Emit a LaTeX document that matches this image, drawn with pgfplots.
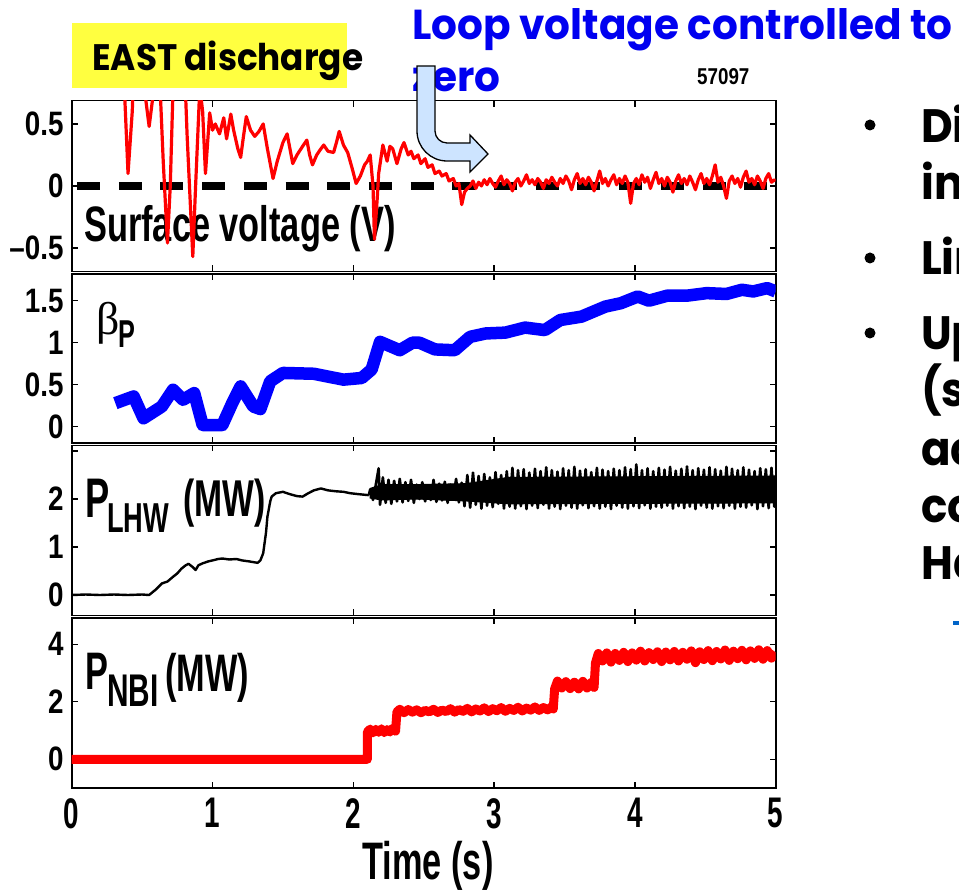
\documentclass[border=0pt]{standalone}
\usepackage{pgfplots}
\pgfplotsset{compat=1.18}
\usepackage{fontspec}
\newfontfamily\lab[FakeStretch=0.65]{Liberation Sans}
\newfontfamily\labw[FakeStretch=0.69]{Liberation Sans}
\newfontfamily\ytf[FakeStretch=0.82]{Liberation Sans}
\newfontfamily\pop[FakeStretch=0.93]{Poppins}
\newfontfamily\popw[FakeStretch=0.97]{Poppins}
\newfontfamily\grk{Liberation Serif}
\definecolor{pred}{RGB}{255,0,0}
\definecolor{pblue}{RGB}{0,0,255}
\definecolor{tblue}{RGB}{0,0,240}
\definecolor{ybox}{RGB}{255,255,64}
\definecolor{arrowfill}{RGB}{205,228,255}
\definecolor{subblue}{RGB}{0,100,200}
\pgfplotsset{
  panel/.style={
    scale only axis, width=704bp, xmin=0, xmax=5,
    anchor=south west,
    axis line style={line width=1.6bp},
    tick style={black, line width=1.3bp},
    major tick length=6bp,
    tick align=inside,
    xtick={0,1,2,3,4,5},
    xticklabels={},
    yticklabel style={font=\ytf\bfseries\fontsize{34}{34}\selectfont, inner sep=0pt, xshift=-8bp},
    clip=true,
  }
}
\begin{document}
\begin{tikzpicture}[x=1bp,y=1bp]
\useasboundingbox (0,0) rectangle (959,891);
\clip (0,0) rectangle (959,891);
% yellow box and titles
\fill[ybox] (72,803) rectangle (347,868);
\node[anchor=base west, inner sep=0, font=\pop\bfseries\fontsize{37}{37}\selectfont] at (92,820) {EAST discharge};
\node[anchor=base west, inner sep=0, text=tblue, font=\popw\bfseries\fontsize{42}{42}\selectfont] at (412,851) {Loop voltage controlled to};
\node[anchor=base west, inner sep=0, text=tblue, font=\popw\bfseries\fontsize{42}{42}\selectfont] at (412,799) {zero};
\node[anchor=base west, inner sep=0, font=\ytf\bfseries\fontsize{23}{23}\selectfont] at (697,806) {57097};
% right bullets
\fill (870,766) circle (5.5);
\fill (870,633) circle (5.5);
\fill (870,558) circle (5.5);
\begin{scope}[every node/.style={anchor=base west, inner sep=0, font=\pop\bfseries\fontsize{47}{47}\selectfont}]
\node at (921,748) {Di};
\node at (921,691) {in};
\node at (921,616) {Lin};
\node at (921,541) {Up};
\node at (921,484) {(s};
\node at (921,425) {ac};
\node at (921,368) {co};
\node at (921,311) {Ha};
\end{scope}
\fill[subblue] (953,266) rectangle (959,270);
% panel labels
\node[anchor=base west, inner sep=0, font=\labw\bfseries\fontsize{50}{50}\selectfont] at (84,649) {Surface voltage (V)};
\node[anchor=base west, inner sep=0, font=\grk\fontsize{46}{46}\selectfont] at (96,556) {β};
\node[anchor=base west, inner sep=0, font=\lab\bfseries\fontsize{39}{39}\selectfont] at (118,543) {P};
\node[anchor=base west, inner sep=0, font=\lab\bfseries\fontsize{56}{56}\selectfont] at (85,373) {P};
\node[anchor=base west, inner sep=0, font=\lab\bfseries\fontsize{42}{42}\selectfont] at (107,358) {LHW};
\node[anchor=base west, inner sep=0, font=\lab\bfseries\fontsize{52}{52}\selectfont] at (183,374) {(MW)};
\node[anchor=base west, inner sep=0, font=\lab\bfseries\fontsize{53}{53}\selectfont] at (85,201) {P};
\node[anchor=base west, inner sep=0, font=\lab\bfseries\fontsize{46}{46}\selectfont] at (107,184) {NBI};
\node[anchor=base west, inner sep=0, font=\lab\bfseries\fontsize{53}{53}\selectfont] at (165,199) {(MW)};
\node[anchor=base, inner sep=0, font=\lab\bfseries\fontsize{53}{53}\selectfont] at (428,11) {Time (s)};

% ---------------- panel 1
\begin{axis}[panel, at={(71.7bp,619.5bp)}, height=170.8bp, ymin=-0.69, ymax=0.688,
  ytick={-0.5,0,0.5}, yticklabels={–0.5,0,0.5}]
\addplot[black, line width=8bp, dash pattern=on 23bp off 18.7bp] coordinates {(0.038,0) (5,0)};
\addplot[pred, line width=3.2bp, line join=round] table {
0.35 1.5
0.37 0.9
0.40 0.10
0.43 0.6
0.45 1.2
0.50 1.0
0.52 0.75
0.55 0.48
0.58 0.75
0.60 1.5
0.62 1.0
0.65 0.2
0.68 -0.46
0.70 0.0
0.72 0.8
0.75 1.5
0.80 1.0
0.82 0.4
0.86 -0.57
0.88 0.0
0.91 0.8
0.93 0.6
0.95 0.10
0.98 0.59
1.00 0.45
1.02 0.50
1.05 0.42
1.08 0.55
1.10 0.38
1.13 0.58
1.15 0.45
1.18 0.30
1.20 0.23
1.22 0.40
1.24 0.56
1.27 0.45
1.30 0.40
1.33 0.44
1.36 0.50
1.39 0.30
1.43 0.06
1.46 0.20
1.50 0.35
1.53 0.42
1.55 0.30
1.57 0.18
1.60 0.25
1.64 0.32
1.67 0.37
1.69 0.25
1.71 0.17
1.74 0.25
1.77 0.30
1.79 0.33
1.82 0.28
1.86 0.27
1.88 0.35
1.90 0.44
1.93 0.33
1.96 0.27
1.99 0.15
2.02 0.02
2.05 0.08
2.08 0.17
2.10 0.20
2.12 0.25
2.14 0.0
2.15 -0.43
2.17 -0.10
2.18 0.10
2.21 0.33
2.24 0.20
2.26 0.32
2.28 0.30
2.31 0.18
2.34 0.30
2.36 0.35
2.39 0.25
2.41 0.28
2.43 0.22
2.46 0.25
2.48 0.18
2.51 0.22
2.53 0.15
2.56 0.17
2.58 0.10
2.61 0.12
2.63 0.08
2.66 0.10
2.68 0.04
2.71 0.06
2.73 0.00
2.75 0.02
2.77 -0.15
2.79 -0.05
2.81 -0.02
2.83 0.00
2.85 0.04
2.87 -0.02
2.89 0.03
2.91 0.00
2.93 0.05
2.95 0.01
2.97 0.06
2.99 0.02
3.01 -0.01
3.03 0.04
3.05 0.08
3.07 0.01
3.09 0.05
3.11 0.02
3.13 -0.04
3.15 0.03
3.17 0.06
3.19 0.00
3.21 0.04
3.23 0.09
3.25 0.02
3.27 0.05
3.29 0.01
3.31 0.06
3.33 0.03
3.35 -0.02
3.37 0.05
3.39 0.02
3.41 0.07
3.43 0.03
3.45 0.00
3.47 0.06
3.49 0.02
3.51 0.08
3.53 0.04
3.55 -0.03
3.57 0.05
3.59 0.10
3.61 0.02
3.63 0.06
3.65 0.01
3.67 0.07
3.69 0.03
3.71 -0.04
3.73 0.04
3.75 0.12
3.77 0.02
3.79 0.06
3.81 0.00
3.83 0.05
3.85 0.09
3.87 0.01
3.89 0.06
3.91 0.02
3.93 0.08
3.95 0.03
3.97 -0.14
3.99 0.02
4.01 0.06
4.03 0.01
4.05 0.09
4.07 0.03
4.09 0.07
4.11 -0.02
4.13 0.05
4.15 0.11
4.17 0.02
4.19 0.06
4.21 0.00
4.23 0.07
4.25 0.03
4.27 -0.05
4.29 0.04
4.31 0.09
4.33 0.02
4.35 0.06
4.37 0.01
4.39 0.08
4.41 0.03
4.43 -0.03
4.45 0.05
4.47 0.10
4.49 0.02
4.51 0.06
4.53 0.01
4.55 0.08
4.57 0.17
4.59 0.03
4.61 0.07
4.63 0.00
4.65 -0.10
4.67 0.04
4.69 0.08
4.71 0.02
4.73 0.06
4.75 -0.01
4.77 0.07
4.79 0.12
4.81 0.03
4.83 0.06
4.85 0.01
4.87 0.08
4.89 0.04
4.91 -0.02
4.93 0.06
4.95 0.10
4.97 0.03
4.99 0.05
5.00 0.04
};
\end{axis}

% ---------------- panel 2
\begin{axis}[panel, at={(71.7bp,448bp)}, height=169bp, ymin=-0.194, ymax=1.818,
  ytick={0,0.5,1,1.5}, yticklabels={0,0.5,1,1.5}]
\addplot[pblue, line width=12.5bp, line join=round] table {
0.31 0.28
0.44 0.36
0.51 0.10
0.64 0.24
0.72 0.44
0.79 0.32
0.87 0.40
0.93 0.02
1.07 0.02
1.14 0.28
1.20 0.48
1.29 0.24
1.34 0.21
1.41 0.54
1.50 0.64
1.72 0.63
1.93 0.56
2.06 0.58
2.13 0.68
2.19 1.01
2.33 0.91
2.42 1.00
2.47 1.00
2.58 0.92
2.72 0.91
2.83 1.07
2.94 1.11
3.08 1.12
3.22 1.18
3.36 1.15
3.47 1.27
3.62 1.31
3.79 1.43
3.90 1.47
4.02 1.55
4.10 1.50
4.23 1.56
4.37 1.56
4.51 1.59
4.65 1.58
4.76 1.63
4.84 1.61
4.94 1.65
5.00 1.61
};
\end{axis}

% ---------------- panel 3
\begin{axis}[panel, at={(71.7bp,275.5bp)}, height=170bp, ymin=-0.427, ymax=3.115,
  ytick={0,1,2,3}, yticklabels={0,1,2,{}}]
\addplot[black, line width=2.4bp, line join=round] table {
0.00 0.00
0.10 0.01
0.20 0.00
0.30 0.01
0.40 0.00
0.50 0.01
0.55 0.00
0.60 0.12
0.64 0.24
0.68 0.28
0.72 0.38
0.75 0.45
0.78 0.55
0.81 0.62
0.83 0.65
0.86 0.58
0.88 0.52
0.90 0.62
0.93 0.66
0.97 0.70
1.00 0.72
1.04 0.75
1.07 0.76
1.12 0.74
1.17 0.75
1.21 0.72
1.26 0.70
1.30 0.68
1.32 0.67
1.34 0.72
1.36 0.87
1.38 1.30
1.39 1.63
1.41 1.95
1.42 2.05
1.45 2.12
1.50 2.15
1.55 2.10
1.60 2.06
1.64 2.05
1.68 2.12
1.72 2.18
1.77 2.22
1.82 2.18
1.88 2.16
1.93 2.15
1.98 2.12
2.04 2.10
2.11 2.08
};
% solid core of the fast-oscillating LHW trace (upper envelope, then lower envelope back)
\addplot[fill=black, draw=black, line width=1bp] coordinates {
(2.12,2.22) (2.20,2.30) (2.45,2.30) (2.80,2.32) (3.10,2.45) (5.00,2.48)
(5.00,1.92) (3.10,1.90) (2.80,1.96) (2.45,2.00) (2.20,1.98) (2.12,2.02)
} -- cycle;
\addplot[black, line width=2.6bp, line join=round] table {
2.11 2.08
2.12 2.20
2.14 1.98
2.16 2.30
2.18 2.64
2.19 1.88
2.21 2.45
2.23 1.92
2.25 2.40
2.27 1.90
2.29 2.38
2.31 1.95
2.33 2.42
2.35 1.93
2.37 2.35
2.39 1.96
2.41 2.40
2.43 1.92
2.45 2.30
2.47 2.00
2.49 2.35
2.51 1.95
2.53 2.28
2.55 1.98
2.57 2.40
2.59 1.94
2.61 2.32
2.63 1.97
2.65 2.36
2.67 1.92
2.69 2.30
2.71 1.99
2.73 2.42
2.75 1.93
2.77 2.34
2.79 1.85
2.81 2.50
2.83 1.82
2.85 2.55
2.87 1.88
2.89 2.48
2.91 1.80
2.93 2.52
2.95 1.86
2.97 2.45
2.99 1.83
3.01 2.56
3.03 1.90
3.05 2.50
3.07 1.80
3.09 2.58
3.11 1.84
3.13 2.65
3.15 1.80
3.17 2.60
3.19 1.85
3.21 2.62
3.23 1.79
3.25 2.55
3.27 1.86
3.29 2.63
3.31 1.81
3.33 2.58
3.35 1.88
3.37 2.66
3.39 1.80
3.41 2.60
3.43 1.84
3.45 2.57
3.47 1.79
3.49 2.64
3.51 1.86
3.53 2.60
3.55 1.82
3.57 2.67
3.59 1.80
3.61 2.59
3.63 1.87
3.65 2.62
3.67 1.81
3.69 2.56
3.71 1.85
3.73 2.65
3.75 1.80
3.77 2.61
3.79 1.84
3.81 2.58
3.83 1.79
3.85 2.63
3.87 1.86
3.89 2.60
3.91 1.82
3.93 2.66
3.95 1.80
3.97 2.62
3.99 1.85
4.01 2.72
4.03 1.81
4.05 2.60
4.07 1.87
4.09 2.64
4.11 1.80
4.13 2.58
4.15 1.84
4.17 2.65
4.19 1.82
4.21 2.61
4.23 1.86
4.25 2.67
4.27 1.80
4.29 2.59
4.31 1.85
4.33 2.63
4.35 1.81
4.37 2.68
4.39 1.84
4.41 2.60
4.43 1.79
4.45 2.64
4.47 1.86
4.49 2.61
4.51 1.82
4.53 2.66
4.55 1.80
4.57 2.62
4.59 1.85
4.61 2.59
4.63 1.81
4.65 2.67
4.67 1.86
4.69 2.63
4.71 1.80
4.73 2.60
4.75 1.84
4.77 2.66
4.79 1.82
4.81 2.61
4.83 1.87
4.85 2.58
4.87 1.79
4.89 2.64
4.91 1.85
4.93 2.62
4.95 1.81
4.97 2.65
4.99 1.84
5.00 2.20
};
\end{axis}

% ---------------- panel 4
\begin{axis}[panel, at={(71.7bp,102.7bp)}, height=170.3bp, ymin=-1.009, ymax=4.915,
  ytick={0,2,4}, yticklabels={0,2,4},
  xticklabels={0,1,2,3,4,5},
  xticklabel style={font=\lab\bfseries\fontsize{43}{43}\selectfont, inner sep=0pt, yshift=-10bp}]
\addplot[pred, line width=9bp, line join=round] table {
0.00 0.00
2.10 0.00
2.10 0.95
2.12 1.05
2.14 0.92
2.16 1.04
2.18 0.94
2.20 1.06
2.22 0.93
2.24 1.03
2.26 0.95
2.28 1.08
2.30 0.98
2.31 1.65
2.33 1.74
2.36 1.62
2.39 1.73
2.42 1.64
2.45 1.72
2.48 1.62
2.51 1.70
2.54 1.65
2.57 1.74
2.60 1.63
2.63 1.71
2.66 1.66
2.69 1.76
2.72 1.64
2.75 1.73
2.78 1.67
2.81 1.77
2.84 1.65
2.87 1.75
2.90 1.68
2.93 1.79
2.96 1.66
2.99 1.76
3.02 1.69
3.05 1.80
3.08 1.67
3.11 1.77
3.14 1.70
3.17 1.81
3.20 1.68
3.23 1.78
3.26 1.71
3.29 1.82
3.32 1.70
3.35 1.80
3.38 1.72
3.41 1.83
3.42 1.75
3.43 2.45
3.45 2.72
3.48 2.48
3.51 2.70
3.54 2.46
3.57 2.68
3.60 2.45
3.63 2.71
3.66 2.48
3.69 2.67
3.71 2.50
3.72 3.35
3.74 3.68
3.77 3.42
3.80 3.70
3.83 3.38
3.86 3.68
3.89 3.44
3.92 3.72
3.95 3.40
3.98 3.70
4.01 3.45
4.04 3.76
4.07 3.42
4.10 3.71
4.13 3.47
4.16 3.74
4.19 3.40
4.22 3.73
4.25 3.46
4.28 3.75
4.31 3.42
4.34 3.72
4.37 3.48
4.40 3.77
4.43 3.36
4.46 3.74
4.49 3.47
4.52 3.78
4.55 3.43
4.58 3.75
4.61 3.49
4.64 3.80
4.67 3.44
4.70 3.76
4.73 3.50
4.76 3.79
4.79 3.46
4.82 3.77
4.85 3.51
4.88 3.81
4.91 3.48
4.94 3.78
4.97 3.52
5.00 3.72
};
\end{axis}

% bent arrow
\filldraw[fill=arrowfill, draw=black, line width=1.3bp, line join=miter]
 (417,825) -- (417,760) arc[start angle=180, end angle=270, radius=30]
 -- (470,730) -- (470,719) -- (488,737) -- (470,756) -- (470,748) -- (447,748)
 arc[start angle=270, end angle=180, radius=12] -- (435,825) -- cycle;
\end{tikzpicture}
\end{document}
